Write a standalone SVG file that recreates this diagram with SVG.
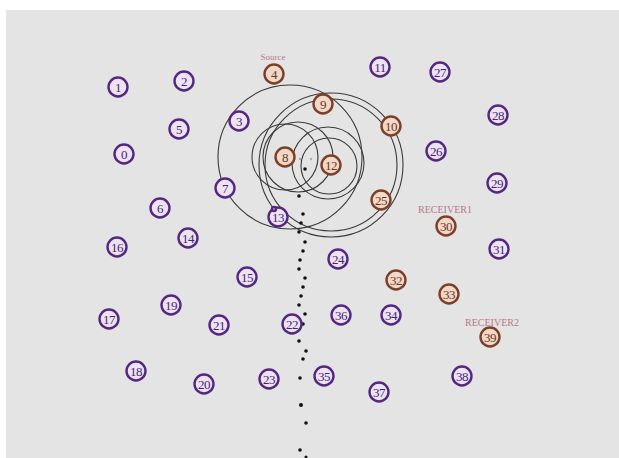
<svg xmlns="http://www.w3.org/2000/svg" width="619" height="458" viewBox="0 0 619 458">
<defs>
<style>
.bg{fill:#e4e4e4}
.rng{fill:none;stroke:#3a3a3a;stroke-width:1.1}
.p circle{fill:#ece3f3;stroke:#54287f;stroke-width:2.4}
.p text{fill:#4a2375}
.o circle{fill:#f1d8c8;stroke:#7c4029;stroke-width:2.4}
.o text{fill:#6e3522}
text{font-family:"Liberation Serif","DejaVu Serif",serif;font-size:13px;text-anchor:middle;dominant-baseline:central;letter-spacing:-0.6px}
.lbl{fill:#b8788a;font-size:10px;letter-spacing:0}
.dot{fill:#111}
</style>
</defs>
<rect x="0" y="0" width="619" height="458" fill="#ffffff"/>
<rect class="bg" x="6" y="10" width="613" height="448"/>
<g id="ranges">
<circle class="rng" cx="290" cy="157" r="72"/>
<circle class="rng" cx="331" cy="165" r="72"/>
<circle class="rng" cx="331" cy="165" r="66"/>
<circle class="rng" cx="285" cy="157" r="33"/>
<circle class="rng" cx="298" cy="157" r="35"/>
<circle class="rng" cx="328" cy="163" r="36"/>
<circle class="rng" cx="329" cy="166" r="28"/>
</g>
<g id="connectors">
<circle class="dot" cx="305" cy="169" r="1.8"/>
<circle class="dot" cx="299" cy="196" r="1.8"/>
<circle class="dot" cx="303" cy="214" r="1.8"/>
<circle class="dot" cx="301" cy="223" r="1.8"/>
<circle class="dot" cx="299" cy="232" r="1.8"/>
<circle class="dot" cx="305" cy="242" r="1.8"/>
<circle class="dot" cx="303" cy="251" r="1.8"/>
<circle class="dot" cx="300" cy="260" r="1.8"/>
<circle class="dot" cx="299" cy="269" r="1.8"/>
<circle class="dot" cx="305" cy="278" r="1.8"/>
<circle class="dot" cx="303" cy="287" r="1.8"/>
<circle class="dot" cx="301" cy="296" r="1.8"/>
<circle class="dot" cx="299" cy="305" r="1.8"/>
<circle class="dot" cx="305" cy="314" r="1.8"/>
<circle class="dot" cx="303" cy="324" r="1.8"/>
<circle class="dot" cx="299" cy="341" r="1.8"/>
<circle class="dot" cx="306" cy="351" r="1.8"/>
<circle class="dot" cx="303" cy="359" r="1.8"/>
<circle class="dot" cx="300" cy="378" r="1.8"/>
<circle class="dot" cx="301" cy="405" r="2"/>
<circle class="dot" cx="306" cy="423" r="1.8"/>
<circle class="dot" cx="300" cy="450" r="1.8"/>
<circle class="dot" cx="306" cy="457" r="1.5"/>
<circle cx="300" cy="159" r="1.2" fill="#aaa"/>
<circle cx="311" cy="159" r="1.2" fill="#aaa"/>
</g>
<g id="n0" class="p"><circle cx="124" cy="154" r="9.5"/><text x="124" y="154">0</text></g>
<g id="n1" class="p"><circle cx="118" cy="87" r="9.5"/><text x="118" y="87">1</text></g>
<g id="n2" class="p"><circle cx="184" cy="81" r="9.5"/><text x="184" y="81">2</text></g>
<g id="n3" class="p"><circle cx="239" cy="121" r="9.5"/><text x="239" y="121">3</text></g>
<g id="n4" class="o"><circle cx="274" cy="74" r="9.5"/><text x="274" y="74">4</text></g>
<g id="n5" class="p"><circle cx="179" cy="129" r="9.5"/><text x="179" y="129">5</text></g>
<g id="n6" class="p"><circle cx="160" cy="208" r="9.5"/><text x="160" y="208">6</text></g>
<g id="n7" class="p"><circle cx="225" cy="188" r="9.5"/><text x="225" y="188">7</text></g>
<g id="n8" class="o"><circle cx="285" cy="157" r="9.5"/><text x="285" y="157">8</text></g>
<g id="n9" class="o"><circle cx="323" cy="104" r="9.5"/><text x="323" y="104">9</text></g>
<g id="n10" class="o"><circle cx="391" cy="126" r="9.5"/><text x="391" y="126">10</text></g>
<g id="n11" class="p"><circle cx="380" cy="67" r="9.5"/><text x="380" y="67">11</text></g>
<g id="n12" class="o"><circle cx="331" cy="165" r="9.5"/><text x="331" y="165">12</text></g>
<g id="n13" class="p"><circle cx="278" cy="217" r="9.5"/><text x="278" y="217">13</text><circle class="dot" cx="274" cy="209" r="2"/></g>
<g id="n14" class="p"><circle cx="188" cy="238" r="9.5"/><text x="188" y="238">14</text></g>
<g id="n15" class="p"><circle cx="247" cy="277" r="9.5"/><text x="247" y="277">15</text></g>
<g id="n16" class="p"><circle cx="117" cy="247" r="9.5"/><text x="117" y="247">16</text></g>
<g id="n17" class="p"><circle cx="109" cy="319" r="9.5"/><text x="109" y="319">17</text></g>
<g id="n18" class="p"><circle cx="136" cy="371" r="9.5"/><text x="136" y="371">18</text></g>
<g id="n19" class="p"><circle cx="171" cy="305" r="9.5"/><text x="171" y="305">19</text></g>
<g id="n20" class="p"><circle cx="204" cy="384" r="9.5"/><text x="204" y="384">20</text></g>
<g id="n21" class="p"><circle cx="219" cy="325" r="9.5"/><text x="219" y="325">21</text></g>
<g id="n22" class="p"><circle cx="292" cy="324" r="9.5"/><text x="292" y="324">22</text></g>
<g id="n23" class="p"><circle cx="269" cy="379" r="9.5"/><text x="269" y="379">23</text></g>
<g id="n24" class="p"><circle cx="338" cy="259" r="9.5"/><text x="338" y="259">24</text></g>
<g id="n25" class="o"><circle cx="381" cy="200" r="9.5"/><text x="381" y="200">25</text></g>
<g id="n26" class="p"><circle cx="436" cy="151" r="9.5"/><text x="436" y="151">26</text></g>
<g id="n27" class="p"><circle cx="440" cy="72" r="9.5"/><text x="440" y="72">27</text></g>
<g id="n28" class="p"><circle cx="498" cy="115" r="9.5"/><text x="498" y="115">28</text></g>
<g id="n29" class="p"><circle cx="497" cy="183" r="9.5"/><text x="497" y="183">29</text></g>
<g id="n30" class="o"><circle cx="446" cy="226" r="9.5"/><text x="446" y="226">30</text></g>
<g id="n31" class="p"><circle cx="499" cy="249" r="9.5"/><text x="499" y="249">31</text></g>
<g id="n32" class="o"><circle cx="396" cy="280" r="9.5"/><text x="396" y="280">32</text></g>
<g id="n33" class="o"><circle cx="449" cy="294" r="9.5"/><text x="449" y="294">33</text></g>
<g id="n34" class="p"><circle cx="391" cy="315" r="9.5"/><text x="391" y="315">34</text></g>
<g id="n35" class="p"><circle cx="324" cy="376" r="9.5"/><text x="324" y="376">35</text></g>
<g id="n36" class="p"><circle cx="341" cy="315" r="9.5"/><text x="341" y="315">36</text></g>
<g id="n37" class="p"><circle cx="379" cy="392" r="9.5"/><text x="379" y="392">37</text></g>
<g id="n38" class="p"><circle cx="462" cy="376" r="9.5"/><text x="462" y="376">38</text></g>
<g id="n39" class="o"><circle cx="490" cy="337" r="9.5"/><text x="490" y="337">39</text></g>
<g id="labels">
<text class="lbl" x="273" y="57" style="font-size:9px">Source</text>
<text class="lbl" x="445" y="209">RECEIVER1</text>
<text class="lbl" x="492" y="322">RECEIVER2</text>
</g>
</svg>
